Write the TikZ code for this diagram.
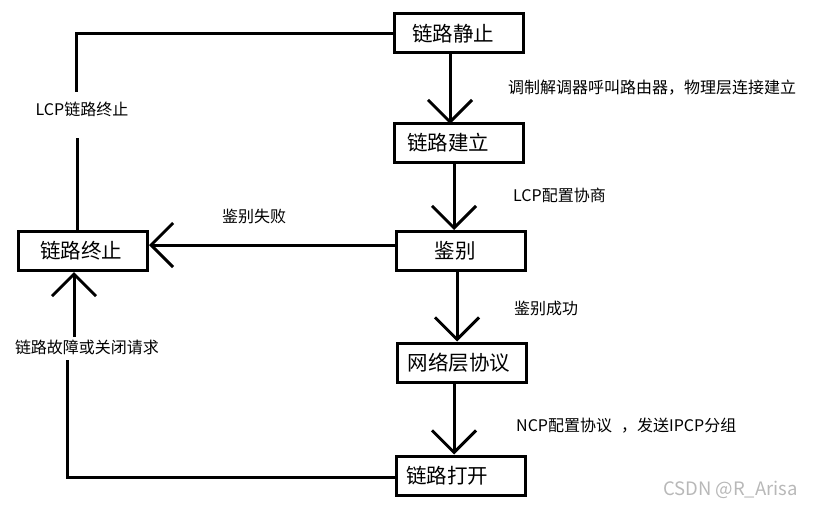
\documentclass[tikz,border=0pt]{standalone}
\usepackage{fontspec}
\setmainfont{Noto Sans CJK SC}
\usetikzlibrary{arrows.meta}
\tikzset{
  box/.style={draw, line width=3pt, minimum width=129pt, minimum height=39pt, inner sep=0pt, font=\fontsize{20.5}{22}\selectfont},
  lab/.style={inner sep=0pt, font=\fontsize{16}{18}\selectfont},
  conn/.style={line width=3pt},
  arr/.style={conn, -{Straight Barb[length=22pt,width=44pt]}},
  wm/.style={inner sep=0pt, text=black!28, font=\fontsize{18.5}{20}\selectfont}
}
\begin{document}
\begin{tikzpicture}[x=1pt,y=-1pt]
\useasboundingbox (0,0) rectangle (814,511);
\node[box] (s) at (459,33.5) {\hspace*{-12pt}链路静止};
\node[box] (e) at (459,143) {\hspace*{-22pt}\raisebox{-4pt}{链路建立}};
\node[box] (a) at (461,251) {\hspace*{-12pt}鉴别};
\node[box] (n) at (462,362.5) {\hspace*{-6pt}网络层协议};
\node[box] (o) at (461,475.5) {\hspace*{-28pt}\raisebox{-5pt}{链路打开}};
\node[box] (t) at (83,251) {\hspace*{-4pt}链路终止};

\node[lab, anchor=west] (l1) at (508,88) {调制解调器呼叫路由器，物理层连接建立};
\node[lab, anchor=west] (l2) at (513,195) {LCP配置协商};
\node[lab, anchor=west] (l3) at (514,308) {鉴别成功};
\node[lab, anchor=west] (l4) at (516,426) {NCP配置协议\hspace{9pt}，发送IPCP分组};
\node[lab] (l5) at (254,216) {鉴别失败};
\node[lab] (l6) at (82,109) {LCP链路终止};
\node[lab] (l7) at (87,347) {链路故障或关闭请求};
\node[wm, anchor=east] (w) at (798,490) {CSDN @R\_Arisa};

% vertical arrows
\draw[arr] ([xshift=-9pt]s.south) -- ([xshift=-9pt,yshift=-2pt]e.north);
\draw[arr] ([xshift=-5pt]e.south) -- ([xshift=-7pt]a.north);
\draw[arr] ([xshift=-4pt]a.south) -- ([xshift=-5pt]n.north);
\draw[arr] ([xshift=-8pt]n.south) -- ([xshift=-7pt]o.north);

% failure arrow
\draw[arr] ([yshift=6pt]a.west) -- ([yshift=6pt]t.east);

% top loop
\coordinate (c1) at (76,32);
\coordinate (g1) at (76,92);
\coordinate (g2) at (77,138);
\draw[conn] (s.west) -- (s.west -| c1) -- (g1);
\draw[conn] (g2) -- (g2 |- t.north);

% bottom loop
\coordinate (c2) at (67,477);
\coordinate (g3) at (67,360);
\coordinate (g4) at (74,337);
\draw[conn] (o.west |- c2) -- (c2) -- (g3);
\draw[arr] (g4) -- (g4 |- t.south);
\end{tikzpicture}
\end{document}
